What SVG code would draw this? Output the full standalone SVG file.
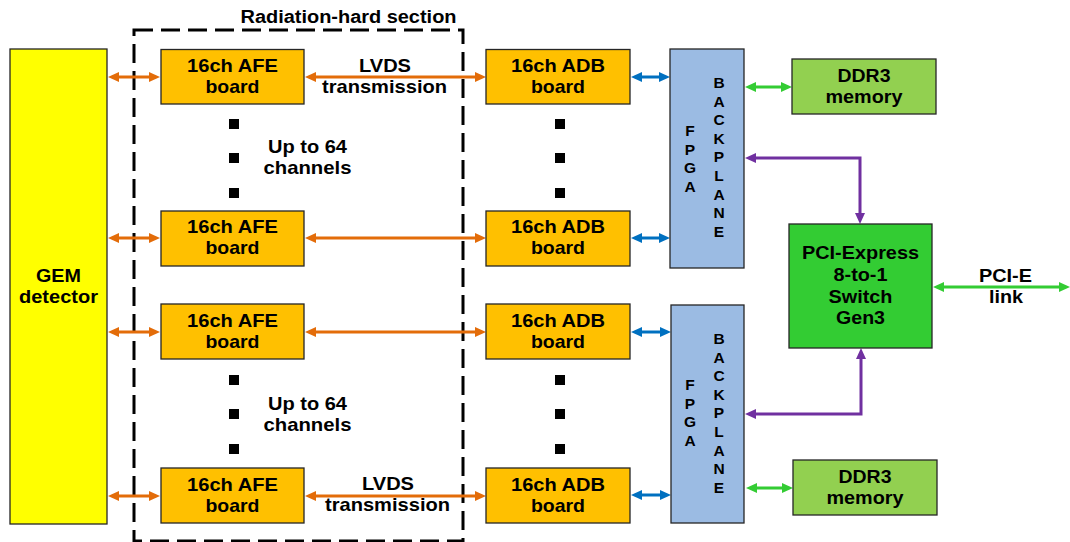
<svg xmlns="http://www.w3.org/2000/svg" width="1070" height="542" viewBox="0 0 1070 542">
<style>
.t{font-family:"Liberation Sans",Arial,sans-serif;font-weight:bold;font-size:19px;fill:#000;text-anchor:middle}
.l{font-family:"Liberation Sans",Arial,sans-serif;font-weight:bold;font-size:15.5px;fill:#000;text-anchor:middle}
.box{stroke:#262626;stroke-width:1.3}
.afe{fill:#FFC000}
.fpga{fill:#9BBBE3}
.ddr{fill:#92D050}
.sw{fill:#33CC33}
.gem{fill:#FFFF00}
.dot{fill:#000}
.c{fill:none;stroke-width:3}
.or{stroke:#E36C09;marker-start:url(#mo);marker-end:url(#mo)}
.bl{stroke:#0070C0;marker-start:url(#mb);marker-end:url(#mb)}
.gr{stroke:#33CC33;marker-start:url(#mg);marker-end:url(#mg)}
.pu{stroke:#7030A0;marker-start:url(#mp);marker-end:url(#mp)}
</style>
<defs>
<marker id="mo" viewBox="0 0 11 10" refX="5" refY="5" markerWidth="11" markerHeight="10" markerUnits="userSpaceOnUse" orient="auto-start-reverse"><path d="M0,0 L11,5 L0,10 z" fill="#E36C09"/></marker>
<marker id="mb" viewBox="0 0 11 10" refX="5" refY="5" markerWidth="11" markerHeight="10" markerUnits="userSpaceOnUse" orient="auto-start-reverse"><path d="M0,0 L11,5 L0,10 z" fill="#0070C0"/></marker>
<marker id="mg" viewBox="0 0 11 10" refX="5" refY="5" markerWidth="11" markerHeight="10" markerUnits="userSpaceOnUse" orient="auto-start-reverse"><path d="M0,0 L11,5 L0,10 z" fill="#33CC33"/></marker>
<marker id="mp" viewBox="0 0 11 10" refX="5" refY="5" markerWidth="11" markerHeight="10" markerUnits="userSpaceOnUse" orient="auto-start-reverse"><path d="M0,0 L11,5 L0,10 z" fill="#7030A0"/></marker>
</defs>
<rect width="1070" height="542" fill="#fff"/>

<g id="radhard">
<rect x="134" y="30" width="329" height="511" fill="none" stroke="#000" stroke-width="3" stroke-dasharray="19 8"/>
<text class="t" x="348.5" y="23" style="font-size:17.5px" textLength="216" lengthAdjust="spacingAndGlyphs">Radiation-hard section</text>
</g>

<g id="connectors">
<path class="c or" d="M114,77 H154"/>
<path class="c or" d="M114,238 H154"/>
<path class="c or" d="M114,332 H154"/>
<path class="c or" d="M114,496 H154"/>
<path class="c or" d="M311,77 H480"/>
<path class="c or" d="M311,238 H480"/>
<path class="c or" d="M311,332 H480"/>
<path class="c or" d="M311,496 H480"/>
<path class="c bl" d="M637,77 H664"/>
<path class="c bl" d="M637,238 H664"/>
<path class="c bl" d="M637,332 H665"/>
<path class="c bl" d="M637,495 H665"/>
<path class="c gr" d="M751,87 H786"/>
<path class="c gr" d="M752,488 H787"/>
<path class="c pu" d="M751,158 H860 V218"/>
<path class="c pu" d="M861,354 V414 H751"/>
<path class="c gr" d="M939,287 H1064"/>
</g>

<g id="gem">
<rect class="box gem" x="10" y="49" width="97" height="475"/>
<text class="t" x="58.5" y="282" textLength="45" lengthAdjust="spacingAndGlyphs">GEM</text>
<text class="t" x="58.5" y="303" textLength="79" lengthAdjust="spacingAndGlyphs">detector</text>
</g>

<g id="afe1">
<rect class="box afe" x="161" y="49.5" width="143" height="54.5"/>
<text class="t" x="232.5" y="72" textLength="91" lengthAdjust="spacingAndGlyphs">16ch AFE</text>
<text class="t" x="232.5" y="93" textLength="54" lengthAdjust="spacingAndGlyphs">board</text>
</g>
<g id="afe2">
<rect class="box afe" x="161" y="211" width="143" height="55"/>
<text class="t" x="232.5" y="233" textLength="91" lengthAdjust="spacingAndGlyphs">16ch AFE</text>
<text class="t" x="232.5" y="254" textLength="54" lengthAdjust="spacingAndGlyphs">board</text>
</g>
<g id="afe3">
<rect class="box afe" x="161" y="304" width="143" height="55"/>
<text class="t" x="232.5" y="327" textLength="91" lengthAdjust="spacingAndGlyphs">16ch AFE</text>
<text class="t" x="232.5" y="348" textLength="54" lengthAdjust="spacingAndGlyphs">board</text>
</g>
<g id="afe4">
<rect class="box afe" x="161" y="468" width="143" height="55"/>
<text class="t" x="232.5" y="491" textLength="91" lengthAdjust="spacingAndGlyphs">16ch AFE</text>
<text class="t" x="232.5" y="512" textLength="54" lengthAdjust="spacingAndGlyphs">board</text>
</g>

<g id="adb1">
<rect class="box afe" x="486" y="49.5" width="144" height="54.5"/>
<text class="t" x="558" y="72" textLength="94" lengthAdjust="spacingAndGlyphs">16ch ADB</text>
<text class="t" x="558" y="93" textLength="54" lengthAdjust="spacingAndGlyphs">board</text>
</g>
<g id="adb2">
<rect class="box afe" x="486" y="211" width="144" height="55"/>
<text class="t" x="558" y="233" textLength="94" lengthAdjust="spacingAndGlyphs">16ch ADB</text>
<text class="t" x="558" y="254" textLength="54" lengthAdjust="spacingAndGlyphs">board</text>
</g>
<g id="adb3">
<rect class="box afe" x="486" y="304" width="144" height="55"/>
<text class="t" x="558" y="327" textLength="94" lengthAdjust="spacingAndGlyphs">16ch ADB</text>
<text class="t" x="558" y="348" textLength="54" lengthAdjust="spacingAndGlyphs">board</text>
</g>
<g id="adb4">
<rect class="box afe" x="486" y="468" width="144" height="55"/>
<text class="t" x="558" y="491" textLength="94" lengthAdjust="spacingAndGlyphs">16ch ADB</text>
<text class="t" x="558" y="512" textLength="54" lengthAdjust="spacingAndGlyphs">board</text>
</g>

<g id="dots">
<rect class="dot" x="229" y="119" width="10" height="10"/>
<rect class="dot" x="229" y="153" width="10" height="10"/>
<rect class="dot" x="229" y="188" width="10" height="10"/>
<rect class="dot" x="229" y="375" width="10" height="10"/>
<rect class="dot" x="229" y="409" width="10" height="10"/>
<rect class="dot" x="229" y="444" width="10" height="10"/>
<rect class="dot" x="555" y="119" width="10" height="10"/>
<rect class="dot" x="555" y="153" width="10" height="10"/>
<rect class="dot" x="555" y="188" width="10" height="10"/>
<rect class="dot" x="555" y="375" width="10" height="10"/>
<rect class="dot" x="555" y="409" width="10" height="10"/>
<rect class="dot" x="555" y="444" width="10" height="10"/>
</g>

<g id="labels">
<text class="t" x="385" y="72" textLength="52" lengthAdjust="spacingAndGlyphs">LVDS</text>
<text class="t" x="384.5" y="93" textLength="125" lengthAdjust="spacingAndGlyphs">transmission</text>
<text class="t" x="388" y="490" textLength="52" lengthAdjust="spacingAndGlyphs">LVDS</text>
<text class="t" x="387.5" y="511" textLength="125" lengthAdjust="spacingAndGlyphs">transmission</text>
<text class="t" x="307.5" y="153" textLength="79" lengthAdjust="spacingAndGlyphs">Up to 64</text>
<text class="t" x="307.5" y="174" textLength="88" lengthAdjust="spacingAndGlyphs">channels</text>
<text class="t" x="307.5" y="410" textLength="79" lengthAdjust="spacingAndGlyphs">Up to 64</text>
<text class="t" x="307.5" y="431" textLength="88" lengthAdjust="spacingAndGlyphs">channels</text>
<text class="t" x="1005.5" y="282" textLength="53" lengthAdjust="spacingAndGlyphs">PCI-E</text>
<text class="t" x="1006" y="303" textLength="34" lengthAdjust="spacingAndGlyphs">link</text>
</g>

<g id="fpga1">
<rect class="box fpga" x="670" y="49" width="74" height="219"/>
<text class="l" x="690" y="136">F</text>
<text class="l" x="690" y="154.7">P</text>
<text class="l" x="690" y="173.4">G</text>
<text class="l" x="690" y="192">A</text>
<text class="l" x="719" y="88">B</text>
<text class="l" x="719" y="106.6">A</text>
<text class="l" x="719" y="125.2">C</text>
<text class="l" x="719" y="143.8">K</text>
<text class="l" x="719" y="162.4">P</text>
<text class="l" x="719" y="181">L</text>
<text class="l" x="719" y="199.6">A</text>
<text class="l" x="719" y="218.2">N</text>
<text class="l" x="719" y="236.8">E</text>
</g>
<g id="fpga2">
<rect class="box fpga" x="671" y="305" width="73" height="218"/>
<text class="l" x="690" y="390">F</text>
<text class="l" x="690" y="408.7">P</text>
<text class="l" x="690" y="427.4">G</text>
<text class="l" x="690" y="446">A</text>
<text class="l" x="719" y="344">B</text>
<text class="l" x="719" y="362.6">A</text>
<text class="l" x="719" y="381.2">C</text>
<text class="l" x="719" y="399.8">K</text>
<text class="l" x="719" y="418.4">P</text>
<text class="l" x="719" y="437">L</text>
<text class="l" x="719" y="455.6">A</text>
<text class="l" x="719" y="474.2">N</text>
<text class="l" x="719" y="492.8">E</text>
</g>

<g id="ddr1">
<rect class="box ddr" x="792" y="59" width="144" height="55"/>
<text class="t" x="864" y="82" textLength="53" lengthAdjust="spacingAndGlyphs">DDR3</text>
<text class="t" x="864" y="103" textLength="77" lengthAdjust="spacingAndGlyphs">memory</text>
</g>
<g id="ddr2">
<rect class="box ddr" x="793" y="460" width="144" height="55"/>
<text class="t" x="865" y="483" textLength="53" lengthAdjust="spacingAndGlyphs">DDR3</text>
<text class="t" x="865" y="504" textLength="77" lengthAdjust="spacingAndGlyphs">memory</text>
</g>

<g id="switch">
<rect class="box sw" x="789" y="224" width="143" height="124"/>
<text class="t" x="860.5" y="259" textLength="117" lengthAdjust="spacingAndGlyphs">PCI-Express</text>
<text class="t" x="860.5" y="281" textLength="54" lengthAdjust="spacingAndGlyphs">8-to-1</text>
<text class="t" x="860.5" y="303" textLength="64" lengthAdjust="spacingAndGlyphs">Switch</text>
<text class="t" x="860.5" y="324" textLength="49" lengthAdjust="spacingAndGlyphs">Gen3</text>
</g>
</svg>
